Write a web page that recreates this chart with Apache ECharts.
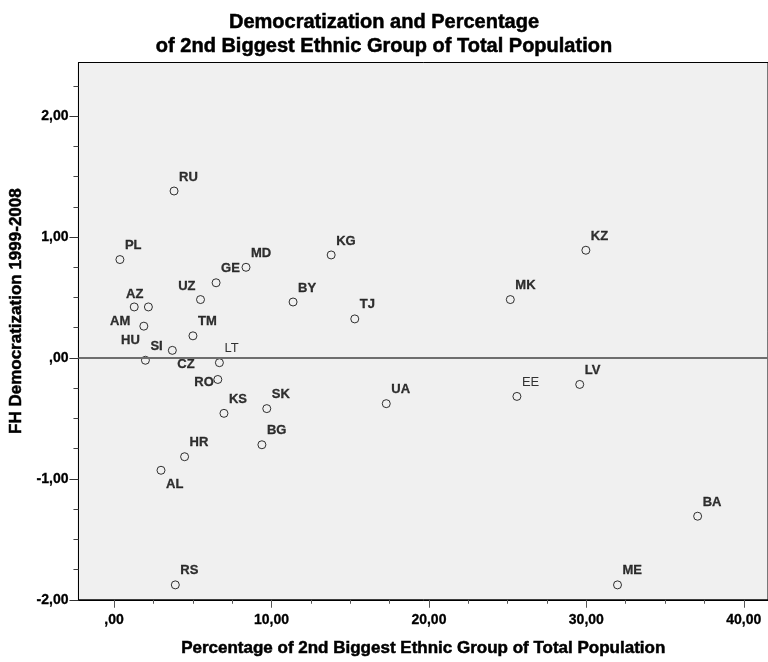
<!DOCTYPE html>
<html>
<head>
<meta charset="utf-8">
<script src="https://cdn.jsdelivr.net/npm/echarts@6/dist/echarts.min.js"></script>
<style>
html,body{margin:0;padding:0;background:#fff;}
#chart{width:768px;height:662px;}
</style>
</head>
<body>
<div id="chart"></div>
<script>
// ---- data ----
const codes   = ['RU','PL','KG','MD','GE','UZ','BY','TJ','AZ','AM','HU','SI','CZ','TM','LT','RO','KS','SK','BG','HR','AL','RS','UA','MK','KZ','EE','LV','BA','ME'];
const xValues = [3.81,0.37,13.79,8.38,6.48,5.49,11.37,15.29,2.18,1.28,1.89,1.99,3.70,5.01,6.69,6.59,6.98,9.70,9.39,4.48,2.98,3.89,17.29,25.17,29.97,25.59,29.58,37.07,31.98];
const yValues = [1.381,0.814,0.852,0.750,0.622,0.483,0.463,0.323,0.422,0.422,0.263,-0.019,0.063,0.183,-0.039,-0.178,-0.458,-0.419,-0.718,-0.817,-0.929,-1.877,-0.378,0.483,0.891,-0.318,-0.219,-1.309,-1.877];
const xTickValues = [0,10,20,30,40];
const xMinorTicks = [2.5,5,7.5,12.5,15,17.5,22.5,25,27.5,32.5,35,37.5];
const yTickValues = [-2,-1,0,1,2];
const titleLines = ['Democratization and Percentage','of 2nd Biggest Ethnic Group of Total Population'];
const xTitle = 'Percentage of 2nd Biggest Ethnic Group of Total Population';
const yTitle = 'FH Democratization 1999-2008';

// ---- label styling (not data) ----
const labelPlace = {UZ:'al', AZ:'al', AM:'bl', HU:'bl', CZ:'br', AL:'br', RO:'l'};
const regularWeight = ['LT','EE'];
const placements = {
  ar:{align:'left',  offset:[5,-14]},
  al:{align:'right', offset:[-5,-13]},
  bl:{align:'right', offset:[-4,14]},
  br:{align:'left',  offset:[5,14]},
  l: {align:'right', offset:[-4,3]}
};

const FONT = '"Liberation Sans", Arial, Helvetica, sans-serif';
function fmt(v){
  let s = Math.abs(v).toFixed(2).replace('.', ',');
  if (s.startsWith('0,')) s = s.slice(1);
  return (v < 0 ? '-' : '') + s;
}

const X_MIN = -2.263, X_MAX = 41.54, Y_MIN = -2.0, Y_MAX = 2.444;

const seriesData = codes.map((c, i) => {
  const p = placements[labelPlace[c] || 'ar'];
  const reg = regularWeight.includes(c);
  return {
    name: c,
    value: [xValues[i], yValues[i]],
    label: {
      show: true,
      position: 'inside',
      formatter: '{b}',
      align: p.align,
      verticalAlign: 'middle',
      offset: p.offset,
      fontFamily: FONT,
      fontSize: 13,
      fontWeight: reg ? 'normal' : 'bold',
      color: '#000',
      textBorderColor: reg ? 'transparent' : '#000',
      textBorderWidth: reg ? 0 : 0.3
    }
  };
});

const heavy = {textBorderColor: '#000', textBorderWidth: 0.5};

const chart = echarts.init(document.getElementById('chart'), null, {renderer:'canvas'});
chart.setOption({
  animation: false,
  backgroundColor: '#ffffff',
  title: {
    text: titleLines.join('\n'),
    left: 'center',
    top: 5,
    textStyle: Object.assign({fontFamily: FONT, fontSize: 20, fontWeight: 'bold', color: '#000', lineHeight: 24}, heavy)
  },
  grid: {
    left: 77, right: -2, top: 62.5, bottom: 59,
    show: true, backgroundColor: '#f0f0f0', borderColor: '#000', borderWidth: 1,
    containLabel: false
  },
  xAxis: [{
    type: 'value', min: X_MIN, max: X_MAX, position: 'bottom',
    name: xTitle, nameLocation: 'middle', nameGap: 40,
    nameTextStyle: Object.assign({fontFamily: FONT, fontSize: 17, fontWeight: 'bold', color: '#000'}, heavy),
    axisLine: {show: true, onZero: false, lineStyle: {color: '#000', width: 1}},
    axisTick: {show: true, customValues: xTickValues, length: 8, lineStyle: {color: '#555', width: 1}},
    axisLabel: {customValues: xTickValues, formatter: fmt, margin: 13,
      fontFamily: FONT, fontSize: 14, fontWeight: 'bold', color: '#000', textBorderColor: '#000', textBorderWidth: 0.3},
    splitLine: {show: false}
  },{
    type: 'value', min: X_MIN, max: X_MAX, position: 'bottom',
    axisLine: {show: false, onZero: false},
    axisTick: {show: true, customValues: xMinorTicks, length: 4, lineStyle: {color: '#555', width: 1}},
    axisLabel: {show: false},
    splitLine: {show: false}
  }],
  yAxis: {
    type: 'value', min: Y_MIN, max: Y_MAX, interval: 1, position: 'left',
    name: yTitle, nameLocation: 'middle', nameGap: 48,
    nameTextStyle: Object.assign({fontFamily: FONT, fontSize: 17, fontWeight: 'bold', color: '#000', padding: [0,0,0,40]}, heavy),
    axisLine: {show: true, onZero: false, lineStyle: {color: '#000', width: 1}},
    axisTick: {show: true, customValues: yTickValues, length: 9, lineStyle: {color: '#333', width: 1}},
    minorTick: {show: true, splitNumber: 4, length: 5, lineStyle: {color: '#444', width: 1}},
    axisLabel: {customValues: yTickValues, formatter: fmt, margin: 10,
      fontFamily: FONT, fontSize: 14, fontWeight: 'bold', color: '#000', textBorderColor: '#000', textBorderWidth: 0.3},
    splitLine: {show: false},
    minorSplitLine: {show: false}
  },
  series: [{
    type: 'scatter',
    xAxisIndex: 0,
    symbol: 'circle',
    symbolSize: 8,
    itemStyle: {color: 'rgba(0,0,0,0)', borderColor: '#000', borderWidth: 1},
    emphasis: {disabled: true},
    data: seriesData,
    markLine: {
      silent: true, symbol: 'none', animation: false,
      label: {show: false},
      lineStyle: {color: '#6e6e6e', width: 2, type: 'solid'},
      data: [{yAxis: 0}]
    },
    z: 3
  }]
});
</script>
</body>
</html>
